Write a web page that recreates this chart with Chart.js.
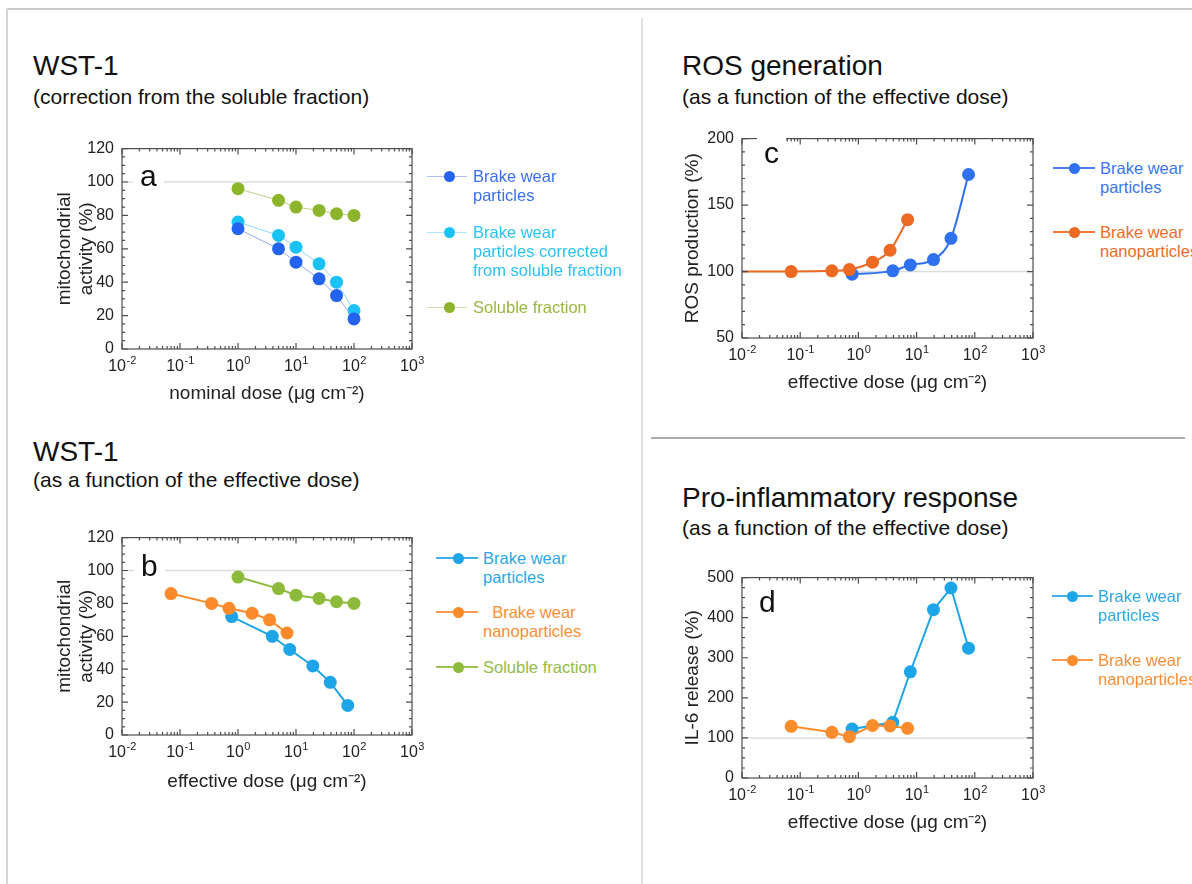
<!DOCTYPE html>
<html>
<head>
<meta charset="utf-8">
<script src="https://cdn.jsdelivr.net/npm/chart.js@4.4.1/dist/chart.umd.min.js"></script>
<style>
  body { margin: 0; width: 1192px; height: 884px; overflow: hidden; background: #fff; position: relative;
         font-family: "Liberation Sans", Arial, Helvetica, sans-serif; }
  canvas { position: absolute; }
  .rule { position: absolute; }
  .t1 { position: absolute; font-size: 28px; line-height: 28px; color: #111; white-space: nowrap; }
  .t2 { position: absolute; font-size: 21px; line-height: 21px; color: #111; white-space: nowrap; }
  .lg { position: absolute; font-size: 16.5px; line-height: 19px; white-space: nowrap; }
  .mk { position: absolute; }
  .letter { position: absolute; font-size: 30px; line-height: 30px; background: #fff; padding: 0 7px; color: #111; }
</style>
</head>
<body>

<!-- frame lines -->
<div class="rule" style="left:7px;top:8px;width:1185px;height:2px;background:#c9c9cd"></div>
<div class="rule" style="left:6px;top:9px;width:2px;height:875px;background:#d4d4d8"></div>
<div class="rule" style="left:641px;top:18px;width:2px;height:866px;background:#e0e0e3"></div>
<div class="rule" style="left:651px;top:437px;width:534px;height:2px;background:#a9adb2"></div>

<!-- titles -->
<div class="t1" style="left:33px;top:52px">WST-1</div>
<div class="t2" style="left:33px;top:86px">(correction from the soluble fraction)</div>
<div class="t1" style="left:33px;top:438px">WST-1</div>
<div class="t2" style="left:33px;top:469px">(as a function of the effective dose)</div>
<div class="t1" style="left:682px;top:52px">ROS generation</div>
<div class="t2" style="left:682px;top:86px">(as a function of the effective dose)</div>
<div class="t1" style="left:682px;top:484px">Pro-inflammatory response</div>
<div class="t2" style="left:682px;top:517px">(as a function of the effective dose)</div>

<canvas id="chartA" width="432" height="274" style="left:0px;top:131px"></canvas>
<canvas id="chartB" width="432" height="273" style="left:0px;top:520px"></canvas>
<canvas id="chartC" width="403" height="273" style="left:650px;top:121px"></canvas>
<canvas id="chartD" width="403" height="274" style="left:650px;top:560px"></canvas>

<div class="letter" style="left:133px;top:161px">a</div>
<div class="letter" style="left:134px;top:551px">b</div>
<div class="letter" style="left:757px;top:138px">c</div>
<div class="letter" style="left:752px;top:587px">d</div>

<div id="legends"></div>

<script>
// x axis (log) ticks: labels are 10 with a raised exponent
const xDecades = [0.01, 0.1, 1, 10, 100, 1000];
const xTickBase = '10';
const xTickExp = ['-2', '-1', '0', '1', '2', '3'];

// doses
const nominalDose = [1, 5, 10, 25, 50, 100];
const effDoseBrake = [0.78, 3.9, 7.8, 19.5, 39, 78];
const effDoseNano = [0.07, 0.35, 0.7, 1.75, 3.5, 7];

// a: WST-1 corrected from soluble fraction (nominal dose)
const aBrake = [72, 60, 52, 42, 32, 18];
const aCorrected = [76, 68, 61, 51, 40, 23];
const aSoluble = [96, 89, 85, 83, 81, 80];

// b: WST-1 vs effective dose
const bBrake = [72, 60, 52, 42, 32, 18];
const bNano = [86, 80, 77, 74, 70, 62];
const bSoluble = [96, 89, 85, 83, 81, 80];

// c: ROS generation (nano line starts at the left axis)
const cNanoDose = [0.01, 0.07, 0.35, 0.7, 1.75, 3.5, 7];
const cNano = [100, 100, 100.5, 101.5, 107, 116, 139];
const cBrake = [98, 100.5, 105, 109, 125, 173];

// d: IL-6 release
const dBrake = [122, 139, 265, 420, 474, 324];
const dNano = [129, 114, 103, 131, 130, 124];

function pts(xs, ys) { return xs.map((x, i) => ({x: x, y: ys[i]})); }

const FONT = '"Liberation Sans", Arial, sans-serif';

// reference line at 100, boxed frame with inward ticks, power-of-ten labels
const boxTicks = {
  id: 'boxTicks',
  beforeDatasetsDraw(chart) {
    const {ctx, chartArea: a, scales: {y}} = chart;
    const yy = y.getPixelForValue(100);
    ctx.save();
    ctx.strokeStyle = '#dcdcdc';
    ctx.lineWidth = 1.5;
    ctx.beginPath();
    ctx.moveTo(a.left, yy);
    ctx.lineTo(a.right, yy);
    ctx.stroke();
    ctx.restore();
  },
  afterDatasetsDraw(chart, args, opts) {
    const {ctx, chartArea: a, scales: {x, y}} = chart;
    ctx.save();
    ctx.strokeStyle = '#4d4d4d';
    ctx.lineWidth = 1.2;
    ctx.strokeRect(a.left, a.top, a.right - a.left, a.bottom - a.top);
    ctx.beginPath();
    xDecades.forEach((d, i) => {
      const px = x.getPixelForValue(d);
      ctx.moveTo(px, a.bottom); ctx.lineTo(px, a.bottom - 6);
      ctx.moveTo(px, a.top); ctx.lineTo(px, a.top + 6);
      if (i < xDecades.length - 1) {
        for (let k = 2; k < 10; k++) {
          const mx = x.getPixelForValue(d * k);
          ctx.moveTo(mx, a.bottom); ctx.lineTo(mx, a.bottom - 3);
          ctx.moveTo(mx, a.top); ctx.lineTo(mx, a.top + 3);
        }
      }
    });
    const n = Math.round((y.max - y.min) / opts.minor);
    for (let j = 0; j <= n; j++) {
      const v = y.min + j * opts.minor;
      const py = y.getPixelForValue(v);
      const len = (j % opts.per === 0) ? 6 : 3;
      ctx.moveTo(a.left, py); ctx.lineTo(a.left + len, py);
      ctx.moveTo(a.right, py); ctx.lineTo(a.right - len, py);
    }
    ctx.stroke();

    // x tick labels 10^n
    ctx.fillStyle = '#222';
    ctx.textAlign = 'left';
    ctx.textBaseline = 'alphabetic';
    const base = a.bottom + 22;
    xDecades.forEach((d, i) => {
      const px = x.getPixelForValue(d);
      ctx.font = '16px ' + FONT;
      const w1 = ctx.measureText(xTickBase).width;
      ctx.font = '11px ' + FONT;
      const w2 = ctx.measureText(xTickExp[i]).width;
      const left = px - (w1 + w2) / 2;
      ctx.font = '16px ' + FONT;
      ctx.fillText(xTickBase, left, base);
      ctx.font = '11px ' + FONT;
      ctx.fillText(xTickExp[i], left + w1 + 0.5, base - 7);
    });
    ctx.restore();
  }
};

function makeChart(id, datasets, cfg) {
  return new Chart(document.getElementById(id), {
    type: 'line',
    data: { datasets: datasets },
    options: {
      responsive: false,
      animation: false,
      devicePixelRatio: 1,
      font: { family: FONT },
      layout: { padding: { left: 0, top: 12, right: 20, bottom: 0 } },
      plugins: {
        legend: { display: false },
        tooltip: { enabled: false },
        boxTicks: { minor: cfg.minor, per: cfg.per }
      },
      scales: {
        x: {
          type: 'logarithmic', min: 0.01, max: 1000,
          afterBuildTicks: s => { s.ticks = xDecades.map(v => ({ value: v })); },
          afterFit: s => { s.height = cfg.xh; },
          grid: { display: false, drawTicks: false },
          border: { display: false },
          ticks: { display: false },
          title: { display: true, text: cfg.xTitle, color: '#222', font: { size: 19, family: FONT }, padding: 0 }
        },
        y: {
          min: cfg.yMin, max: cfg.yMax,
          afterFit: s => { s.width = cfg.yw; },
          grid: { display: false, drawTicks: false },
          border: { display: false },
          ticks: { stepSize: cfg.yStep, padding: 8, color: '#222', font: { size: 16, family: FONT } },
          title: { display: true, text: cfg.yTitle, color: '#222', font: { size: 19, family: FONT },
                   padding: { top: cfg.yTitlePad, bottom: 0 } }
        }
      }
    },
    plugins: [boxTicks]
  });
}

function series(data, color, lineColor, lw, order, extra) {
  return Object.assign({
    data: data, borderColor: lineColor, borderWidth: lw,
    backgroundColor: color, pointBackgroundColor: color, pointBorderColor: color,
    pointRadius: 6.5, pointBorderWidth: 0, fill: false, tension: 0, order: order
  }, extra || {});
}

const doseLabel = 'nominal dose (μg cm⁻²)';
const effLabel = 'effective dose (μg cm⁻²)';

makeChart('chartA', [
  series(pts(nominalDose, aBrake), '#2463ef', '#8fabf2', 1, 1),
  series(pts(nominalDose, aCorrected), '#1bc2f7', '#8ed9f7', 1, 2),
  series(pts(nominalDose, aSoluble), '#8db52c', '#bccf8a', 1, 3)
], { yMin: 0, yMax: 120, yStep: 20, minor: 5, per: 4, yw: 122, xh: 56,
     yTitle: ['mitochondrial', 'activity (%)'], yTitlePad: 53, xTitle: doseLabel });

makeChart('chartB', [
  series(pts(effDoseBrake, bBrake), '#1ea5e8', '#1ea5e8', 2, 2),
  series(pts(effDoseNano, bNano), '#fb8a2a', '#fb8a2a', 2, 1),
  series(pts(nominalDose, bSoluble), '#8dba3a', '#8dba3a', 2, 3)
], { yMin: 0, yMax: 120, yStep: 20, minor: 5, per: 4, yw: 122, xh: 58,
     yTitle: ['mitochondrial', 'activity (%)'], yTitlePad: 53, xTitle: effLabel });

makeChart('chartC', [
  series(pts(effDoseBrake, cBrake), '#2f71f0', '#2f71f0', 2, 2, { cubicInterpolationMode: 'monotone' }),
  series(pts(cNanoDose, cNano), '#ec6a22', '#ec6a22', 2, 1,
         { cubicInterpolationMode: 'monotone', pointRadius: c => c.dataIndex === 0 ? 0 : 6.5 })
], { yMin: 50, yMax: 200, yStep: 50, minor: 10, per: 5, yw: 92, xh: 56,
     yTitle: 'ROS production (%)', yTitlePad: 31, xTitle: effLabel });

makeChart('chartD', [
  series(pts(effDoseBrake, dBrake), '#1ea5e8', '#1ea5e8', 2, 2),
  series(pts(effDoseNano, dNano), '#fb8c2c', '#fb8c2c', 2, 1)
], { yMin: 0, yMax: 500, yStep: 100, minor: 25, per: 4, yw: 92, xh: 56,
     yTitle: 'IL-6 release (%)', yTitlePad: 31, xTitle: effLabel });

// legends (HTML)
const legendBox = document.getElementById('legends');
function addLegend(x1, x2, dotX, textX, items) {
  items.forEach(it => {
    const ln = document.createElement('div');
    ln.className = 'mk';
    ln.style.cssText = `left:${x1}px;top:${it.y - it.lw / 2}px;width:${x2 - x1}px;height:${it.lw}px;background:${it.line}`;
    legendBox.appendChild(ln);
    const dot = document.createElement('div');
    dot.className = 'mk';
    dot.style.cssText = `left:${dotX - 5.5}px;top:${it.y - 5.5}px;width:11px;height:11px;border-radius:50%;background:${it.color}`;
    legendBox.appendChild(dot);
    const tx = document.createElement('div');
    tx.className = 'lg';
    tx.style.cssText = `left:${textX}px;top:${it.y - 9.5}px;color:${it.text}`;
    tx.innerHTML = it.lines.join('<br>');
    legendBox.appendChild(tx);
  });
}

addLegend(427, 467, 449, 473, [
  { y: 176, lines: ['Brake wear', 'particles'], color: '#2463ef', line: '#a9bff5', text: '#3a70ee', lw: 1 },
  { y: 232, lines: ['Brake wear', 'particles corrected', 'from soluble fraction'], color: '#1bc2f7', line: '#b3e6f9', text: '#2cc2f3', lw: 1 },
  { y: 307, lines: ['Soluble fraction'], color: '#8db52c', line: '#cfdcae', text: '#97b740', lw: 1 }
]);
addLegend(436, 478, 458, 483, [
  { y: 558, lines: ['Brake wear', 'particles'], color: '#1ea5e8', line: '#3fb0ea', text: '#2aa8e6', lw: 1.5 },
  { y: 612, lines: ['&nbsp;&nbsp;Brake wear', 'nanoparticles'], color: '#fb8a2a', line: '#fb9a4a', text: '#f98e35', lw: 1.5 },
  { y: 667, lines: ['Soluble fraction'], color: '#8dba3a', line: '#9dc250', text: '#93bb45', lw: 1.5 }
]);
addLegend(1053, 1095, 1074, 1100, [
  { y: 168, lines: ['Brake wear', 'particles'], color: '#2f71f0', line: '#4c82f0', text: '#3a76ee', lw: 1.5 },
  { y: 232, lines: ['Brake wear', 'nanoparticles'], color: '#ec6a22', line: '#ee7a3a', text: '#ec6c28', lw: 1.5 }
]);
addLegend(1052, 1093, 1072, 1098, [
  { y: 596, lines: ['Brake wear', 'particles'], color: '#1ea5e8', line: '#3fb0ea', text: '#2aa8e6', lw: 1.5 },
  { y: 660, lines: ['Brake wear', 'nanoparticles'], color: '#fb8c2c', line: '#fb9a4a', text: '#f98e35', lw: 1.5 }
]);
</script>
</body>
</html>
